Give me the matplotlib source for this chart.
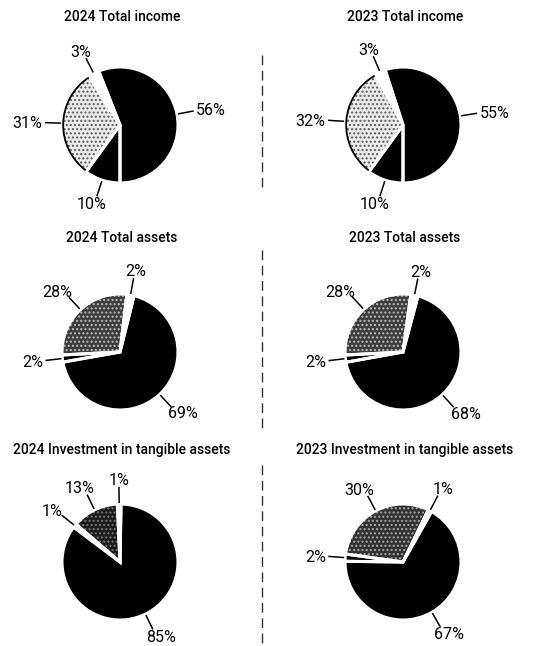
import numpy as np
import matplotlib.pyplot as plt
from matplotlib.lines import Line2D
from matplotlib.patches import Arc

plt.rcParams['font.family'] = ['Roboto', 'DejaVu Sans']

# Daten (Prozent), Reihenfolge im Uhrzeigersinn ab dem großen Segment
titles = ["2024 Total income", "2023 Total income",
          "2024 Total assets", "2023 Total assets",
          "2024 Investment in tangible assets", "2023 Investment in tangible assets"]
income_2024 = [56, 10, 31, 3]
income_2023 = [55, 10, 32, 3]
assets_2024 = [69, 2, 28, 2]
assets_2023 = [68, 2, 28, 2]
invest_2024 = [85, 1, 13, 1]
invest_2023 = [67, 2, 30, 1]
all_values = [income_2024, income_2023, assets_2024, assets_2023, invest_2024, invest_2023]

# Layout / Stil
start_angles = [111.6, 108, 76, 75, 89, 60.5]
third_colors = ['#ececec', '#ececec', '#3c3c3c', '#3c3c3c', '#1a1a1a', '#303030']
hatch_colors = ['#5a5a5a', '#5a5a5a', '#bdbdbd', '#bdbdbd', '#777777', '#a8a8a8']
col_x = [120, 403]
row_y = [125, 352, 562]
title_off = [1.86, 1.97, 1.93]

W, H = 535, 646
R = 58      # Radius in Pixel
L = 2.0     # halbe Achsenbreite in Datenkoordinaten
side = 2 * L * R
label_size = 11.5

fig = plt.figure(figsize=(W / 100, H / 100), dpi=100)


def pie_chart(cx, cy, title, vals, start, c3, hc, toff):
    ax = fig.add_axes([(cx - side / 2) / W, (H - cy - side / 2) / H, side / W, side / H])
    colors = ['black', 'black', c3, 'white']
    wedges, _ = ax.pie(vals, colors=colors, startangle=start, counterclock=False,
                       wedgeprops=dict(linewidth=0))
    wedges[2].set_hatch('....')
    wedges[2].set_edgecolor(hc)
    # weiße Trennlinien
    ax.pie(vals, colors=['none'] * 4, startangle=start, counterclock=False,
           wedgeprops=dict(edgecolor='white', linewidth=2.2, fill=False))
    if c3 == '#ececec':
        w3 = wedges[2]
        ax.add_patch(Arc((0, 0), 1.96, 1.96, theta1=w3.theta1 + 1, theta2=w3.theta2 - 1,
                         color='black', lw=1.3))
    ax.set_xlim(-L, L)
    ax.set_ylim(-L, L)
    ax.set_aspect('equal')
    ax.axis('off')

    cap = 0.72 * label_size * 100 / 72   # Versalhöhe in Pixel
    for w, v in zip(wedges, vals):
        mid = np.deg2rad((w.theta1 + w.theta2) / 2)
        dx, dy = np.cos(mid), np.sin(mid)
        ax.plot([1.03 * dx, 1.28 * dx], [1.03 * dy, 1.28 * dy], color='black', lw=1.1)
        lbl = f"{v}%"
        hw = 5.3 * len(lbl) / R
        hh = 6 / R
        pad = 2.5 / R
        tx = 1.28 * dx + dx * (hw + pad)
        ty = 1.28 * dy + dy * (hh + pad) - cap / 2 / R
        ax.text(tx, ty, lbl, ha='center', va='baseline', fontsize=label_size, color='black')

    ax.text(0.03, toff, title, ha='center', va='center', fontsize=10,
            fontweight='medium', color='black')


for i, (title, vals) in enumerate(zip(titles, all_values)):
    r, c = divmod(i, 2)
    pie_chart(col_x[c], row_y[r], title, vals, start_angles[i],
              third_colors[i], hatch_colors[i], title_off[r])

# gestrichelte Trennlinie zwischen den Spalten
for y0, y1 in [(55, 190), (250, 428), (465, 643)]:
    fig.add_artist(Line2D([262 / W, 262 / W], [1 - y0 / H, 1 - y1 / H],
                          color='#333333', lw=1, ls=(0, (7, 4))))

fig.savefig("out.png", dpi=100)
